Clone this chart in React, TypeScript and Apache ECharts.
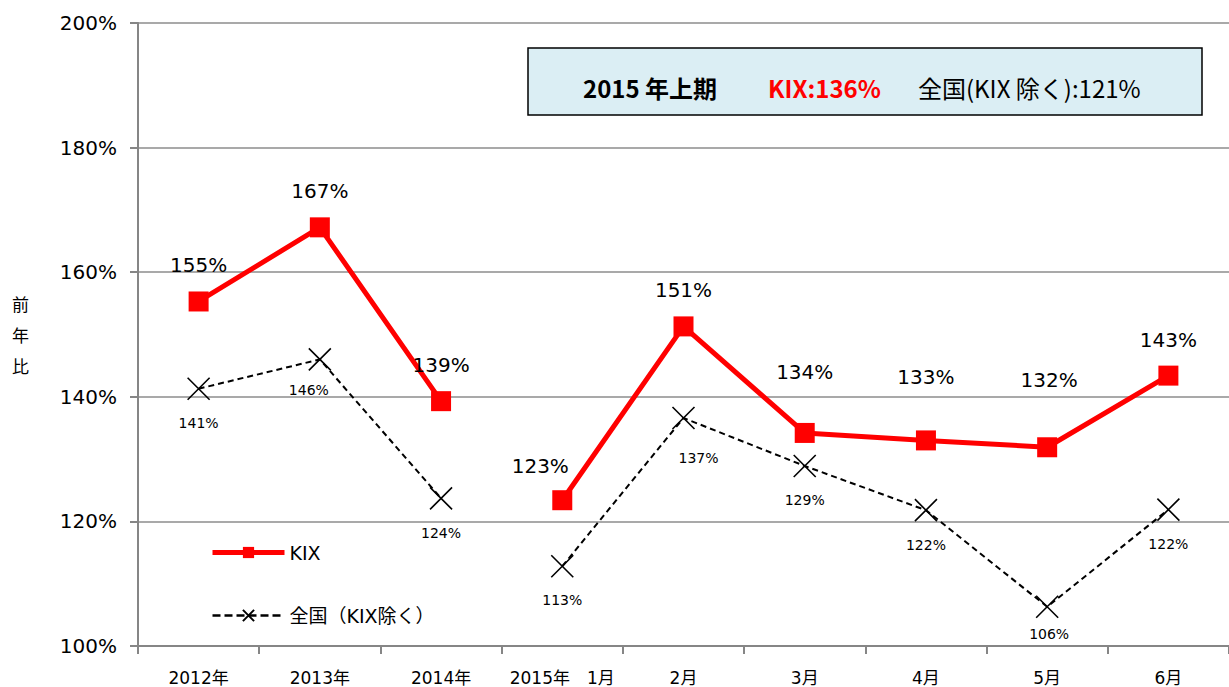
import React, { useEffect, useRef } from "react";
import * as echarts from "echarts";

const categories = ["2012年", "2013年", "2014年", "2015年　1月", "2月", "3月", "4月", "5月", "6月"];
const kixValues = [155.3, 167.2, 139.3, 123.4, 151.3, 134.2, 133.0, 131.9, 143.4];
const nationalValues = [141.3, 146.0, 123.7, 112.8, 136.6, 128.9, 121.8, 106.3, 121.9];
const yTicks = { min: 100, max: 200, interval: 20 };
const summaryTitle = "2015 年上期";
const summaryKix = "KIX:136%";
const summaryNational = "全国(KIX 除く):121%";
const kixName = "KIX";
const nationalName = "全国（KIX除く）";
const splitIndex = 3; // gap between annual and monthly values

// label nudges (styling only)
const kixLabelOffsets: [number, number][] = [[0, 0], [0, 0], [0, 0], [-22, 2], [0, 0], [0, -25], [0, -27], [2, -31], [0, 0]];
const natLabelOffsets: [number, number][] = [[0, 0], [-11, -4], [0, 0], [0, -1], [15, 6], [0, 0], [0, 0], [2, -7], [0, 0]];

const FONT = "'DejaVu Sans', 'Noto Sans CJK JP', sans-serif";
const CJK = "'Noto Sans CJK JP', 'DejaVu Sans', sans-serif";

function segment(values: number[], offsets: [number, number][], first: boolean) {
  return values.map((v, i) => {
    const inSeg = first ? i < splitIndex : i >= splitIndex;
    if (!inSeg) return "-";
    return { value: v, label: { offset: offsets[i] } };
  });
}

export default function App() {
  const ref = useRef<HTMLDivElement>(null);
  useEffect(() => {
    if (!ref.current) return;
    const chart = echarts.init(ref.current, null, { renderer: "svg" });
    const xSym = "path://M0,0L20,20M20,0L0,20";
    const kixCommon = {
      type: "line",
      name: kixName,
      symbol: "rect",
      symbolSize: 20,
      lineStyle: { color: "#ff0000", width: 5 },
      itemStyle: { color: "#ff0000" },
      z: 3,
      label: {
        show: true,
        position: "top",
        distance: 16,
        color: "#000",
        fontSize: 20,
        fontFamily: FONT,
        formatter: (p: any) => Math.round(p.value) + "%",
      },
    };
    const natCommon = {
      type: "line",
      name: nationalName,
      symbol: xSym,
      symbolSize: 22,
      lineStyle: { color: "#000", width: 2, type: [6, 4] },
      itemStyle: { color: "none", borderColor: "#000", borderWidth: 1.6 },
      z: 2,
      label: {
        show: true,
        position: "bottom",
        distance: 14,
        color: "#000",
        fontSize: 14,
        fontFamily: FONT,
        formatter: (p: any) => Math.round(p.value) + "%",
      },
    };
    chart.setOption({
      animation: false,
      backgroundColor: "#fff",
      grid: { left: 138, right: 0, top: 23, bottom: 41, containLabel: false },
      legend: {
        orient: "vertical",
        left: 210,
        top: 543,
        padding: 0,
        itemGap: 44,
        itemWidth: 72,
        itemHeight: 14,
        textStyle: { fontSize: 19, fontFamily: FONT, color: "#000" },
        data: [
          { name: kixName, lineStyle: { width: 5 } },
          { name: nationalName, lineStyle: { width: 2.5, type: [8, 4] } },
        ],
      },
      xAxis: {
        type: "category",
        data: categories,
        boundaryGap: true,
        axisLine: { lineStyle: { color: "#868686", width: 2 } },
        axisTick: { show: true, length: 8, interval: 0, lineStyle: { color: "#868686", width: 2 } },
        axisLabel: { fontSize: 17, fontFamily: FONT, color: "#000", margin: 23, interval: 0 },
      },
      yAxis: {
        type: "value",
        min: yTicks.min,
        max: yTicks.max,
        interval: yTicks.interval,
        axisLine: { show: true, lineStyle: { color: "#868686", width: 2 } },
        axisTick: { show: true, length: 8, lineStyle: { color: "#868686", width: 2 } },
        splitLine: { lineStyle: { color: "#8c8c8c", width: 1.5 } },
        axisLabel: { fontSize: 20, fontFamily: FONT, color: "#000", margin: 21, formatter: "{value}%" },
      },
      series: [
        { ...kixCommon, data: segment(kixValues, kixLabelOffsets, true) },
        { ...kixCommon, data: segment(kixValues, kixLabelOffsets, false) },
        { ...natCommon, data: segment(nationalValues, natLabelOffsets, true) },
        { ...natCommon, data: segment(nationalValues, natLabelOffsets, false) },
      ],
      graphic: [
        {
          type: "text",
          left: 12,
          top: 288,
          style: { text: "前\n年\n比", fontSize: 17, lineHeight: 31, fontFamily: CJK, fill: "#000" },
        },
        {
          type: "rect",
          shape: { x: 528, y: 48, width: 674, height: 67 },
          style: { fill: "#dbeef4", stroke: "#000", lineWidth: 1.5 },
          z: 10,
        },
        {
          type: "text",
          x: 583,
          y: 87,
          z: 11,
          style: { text: summaryTitle, fontSize: 24, fontWeight: "bold", fontFamily: CJK, fill: "#000", verticalAlign: "middle" },
        },
        {
          type: "text",
          x: 768,
          y: 87,
          z: 11,
          style: { text: summaryKix, fontSize: 24, fontWeight: "bold", fontFamily: CJK, fill: "#ff0000", verticalAlign: "middle" },
        },
        {
          type: "text",
          x: 918,
          y: 87,
          z: 11,
          style: { text: summaryNational, fontSize: 24, fontFamily: CJK, fill: "#000", verticalAlign: "middle" },
        },
      ],
    });
    return () => chart.dispose();
  }, []);
  return (
    <div
      ref={ref}
      style={{ position: "fixed", left: 0, top: 0, width: 1229, height: 687 }}
    />
  );
}
